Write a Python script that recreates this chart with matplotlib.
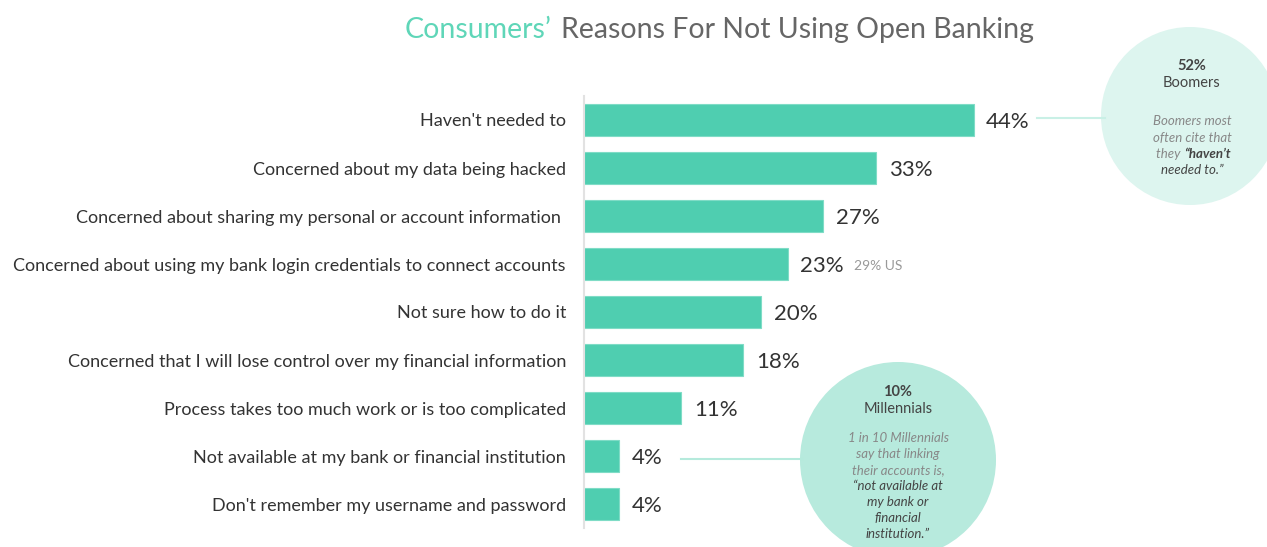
import matplotlib
matplotlib.use('Agg')
import matplotlib.pyplot as plt
from matplotlib.patches import Circle
from matplotlib.lines import Line2D

reasons = ["Haven't needed to",
           "Concerned about my data being hacked",
           "Concerned about sharing my personal or account information ",
           "Concerned about using my bank login credentials to connect accounts",
           "Not sure how to do it",
           "Concerned that I will lose control over my financial information",
           "Process takes too much work or is too complicated",
           "Not available at my bank or financial institution",
           "Don't remember my username and password"]
shares = [44, 33, 27, 23, 20, 18, 11, 4, 4]
us_note = {3: '29% US'}

BAR = '#4fceb0'
TEAL = '#5fd6b8'
DARK = '#333333'
GREY = '#666666'

plt.rcParams['font.family'] = ['Lato', 'DejaVu Sans']

W, H = 1267, 547
fig = plt.figure(figsize=(W / 100, H / 100), dpi=100)


def fx(px):
    return px / W


def fy(py):
    return 1 - py / H


ax = fig.add_axes([fx(584), fy(528), fx(620), 432 / H])
ypos = list(range(len(reasons)))
ax.barh(ypos, shares, height=0.67, color=BAR, edgecolor='#7fdcc6', linewidth=0.8, zorder=2)
ax.set_xlim(0, 70)
ax.set_ylim(len(reasons) - 0.5, -0.5)
ax.set_xticks([])
ax.set_yticks(ypos)
ax.set_yticklabels(reasons, fontsize=13, color=DARK)
ax.tick_params(axis='y', length=0, pad=13)
for s in ['top', 'right', 'bottom']:
    ax.spines[s].set_visible(False)
ax.spines['left'].set_color('#e2e2e2')
ax.spines['left'].set_linewidth(1.5)
ax.patch.set_alpha(0)

for i, v in enumerate(shares):
    ax.annotate(f'{v}%', (v, i), xytext=(9, -1.5), textcoords='offset points',
                va='center', ha='left', fontsize=16, color=DARK)
for i, note in us_note.items():
    ax.annotate(note, (shares[i], i), xytext=(48, -1.5), textcoords='offset points',
                va='center', ha='left', fontsize=10, color='#999999')

# title, two colours
t1 = fig.text(fx(405), fy(30), 'Consumers\u2019', color=TEAL, fontsize=20.5, va='center', ha='left')
fig.canvas.draw()
bb = t1.get_window_extent()
fig.text((bb.x1 + 9) / W, fy(30), 'Reasons For Not Using Open Banking', color=GREY, fontsize=20.5,
         va='center', ha='left')

# callout circles
fig.add_artist(Line2D([fx(1037), fx(1105)], [fy(118), fy(118)], color='#c9f0e6', lw=1.5))
fig.add_artist(Line2D([fx(681), fx(802)], [fy(459), fy(459)], color='#b5eadc', lw=1.5))
fig.add_artist(Circle((1190 / 100, (H - 116) / 100), 0.89, transform=fig.dpi_scale_trans,
                      facecolor='#ddf5ef', edgecolor='none'))
fig.add_artist(Circle((898 / 100, (H - 460) / 100), 0.98, transform=fig.dpi_scale_trans,
                      facecolor='#b7eadd', edgecolor='none'))

cx = fx(1192)
fig.text(cx, fy(66), '52%', ha='center', va='center', fontsize=10.5, color='#444444', weight='bold')
fig.text(cx, fy(83), 'Boomers', ha='center', va='center', fontsize=10.5, color='#444444')
fig.text(cx, fy(121), 'Boomers most', ha='center', va='center', fontsize=9.5, color='#888888', style='italic')
fig.text(cx, fy(138), 'often cite that', ha='center', va='center', fontsize=9.5, color='#888888', style='italic')
fig.text(fx(1184), fy(154), 'they ', ha='right', va='center', fontsize=9.5, color='#888888', style='italic')
fig.text(fx(1184), fy(154), '\u201chaven\u2019t', ha='left', va='center', fontsize=9.5, color='#444444',
         style='italic', weight='bold')
fig.text(cx, fy(170), 'needed to.\u201d', ha='center', va='center', fontsize=9.5, color='#444444', style='italic')

mx = fx(898)
fig.text(mx, fy(392), '10%', ha='center', va='center', fontsize=10.5, color='#444444', weight='bold')
fig.text(mx, fy(409), 'Millennials', ha='center', va='center', fontsize=10.5, color='#444444')
for k, line in enumerate(['1 in 10 Millennials', 'say that linking', 'their accounts is,']):
    fig.text(mx, fy(438 + 16 * k), line, ha='center', va='center', fontsize=9.5, color='#888888',
             style='italic')
for k, line in enumerate(['\u201cnot available at', 'my bank or', 'financial', 'institution.\u201d']):
    fig.text(mx, fy(486 + 16 * k), line, ha='center', va='center', fontsize=9.5, color='#444444',
             style='italic')

fig.savefig('out.png', dpi=100)
